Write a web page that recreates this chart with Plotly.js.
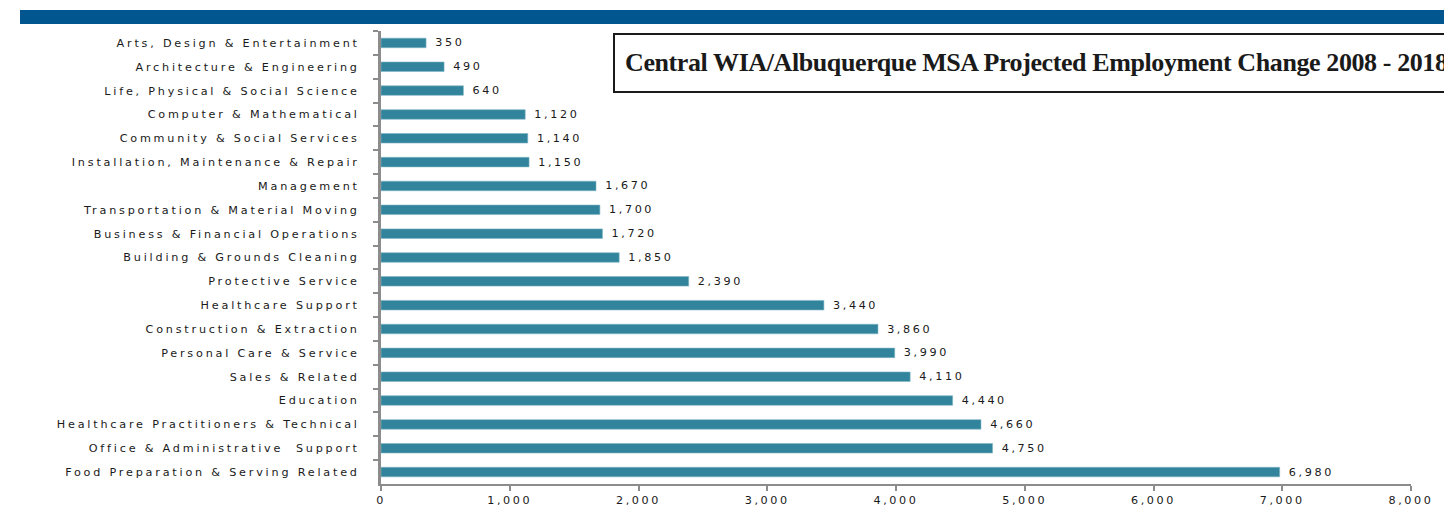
<!DOCTYPE html>
<html>
<head>
<meta charset="utf-8">
<script src="https://cdn.plot.ly/plotly-3.0.1.min.js"></script>
<style>
html,body{margin:0;padding:0;background:#fff;}
#chart{width:1444px;height:506px;}
.ytick text{letter-spacing:2.8px;}
.xtick text{letter-spacing:2.6px;}
text.bartext{letter-spacing:2.6px;}
.annotation-text{letter-spacing:-0.4px;}
</style>
</head>
<body>
<div id="chart"></div>
<script>
const categories = [
  "Arts, Design & Entertainment",
  "Architecture & Engineering",
  "Life, Physical & Social Science",
  "Computer & Mathematical",
  "Community & Social Services",
  "Installation, Maintenance & Repair",
  "Management",
  "Transportation & Material Moving",
  "Business & Financial Operations",
  "Building & Grounds Cleaning",
  "Protective Service",
  "Healthcare Support",
  "Construction & Extraction",
  "Personal Care & Service",
  "Sales & Related",
  "Education",
  "Healthcare Practitioners & Technical",
  "Office & Administrative  Support",
  "Food Preparation & Serving Related"
];
const employmentChange = [350, 490, 640, 1120, 1140, 1150, 1670, 1700, 1720, 1850,
  2390, 3440, 3860, 3990, 4110, 4440, 4660, 4750, 6980];
const xTickValues = [0, 1000, 2000, 3000, 4000, 5000, 6000, 7000, 8000];
const xTickLabels = ["0", "1,000", "2,000", "3,000", "4,000", "5,000", "6,000", "7,000", "8,000"];
const titleText = "Central WIA/Albuquerque MSA Projected Employment Change 2008 - 2018";

const W = 1444, H = 506, L = 381, R = 33, T = 31, B = 22;
const pw = W - L - R, ph = H - T - B;
const px = x => (x - L) / pw;
const py = y => (H - B - y) / ph;

const labelFont = {family: 'DejaVu Sans, Open Sans, sans-serif', size: 11.2, color: '#1a1a1a'};

const trace = {
  type: 'bar',
  orientation: 'h',
  y: categories,
  x: employmentChange,
  marker: {color: '#31849B', line: {color: '#7FB6C6', width: 0.6}},
  text: employmentChange.map(v => '\u00a0' + v.toLocaleString('en-US')),
  textposition: 'outside',
  constraintext: 'none',
  textfont: labelFont,
  outsidetextfont: labelFont,
  cliponaxis: false,
  hoverinfo: 'x+y'
};

const layout = {
  width: W, height: H,
  margin: {l: L, r: R, t: T, b: B, pad: 0},
  paper_bgcolor: '#fff', plot_bgcolor: '#fff',
  showlegend: false,
  bargap: 0.6,
  xaxis: {
    range: [0, 8000],
    tickvals: xTickValues, ticktext: xTickLabels,
    showgrid: false, zeroline: false,
    showline: true, linecolor: '#8C8C8C', linewidth: 2,
    ticks: 'outside', ticklen: 5, tickcolor: '#8C8C8C', tickwidth: 2,
    ticklabelstandoff: 0,
    tickfont: labelFont,
    fixedrange: true
  },
  yaxis: {
    type: 'category',
    autorange: 'reversed',
    showgrid: false, zeroline: false,
    showline: true, linecolor: '#8C8C8C', linewidth: 3,
    ticks: 'outside', tickson: 'boundaries', ticklen: 5, tickcolor: '#8C8C8C', tickwidth: 2,
    ticklabelstandoff: 16,
    tickfont: labelFont,
    fixedrange: true
  },
  shapes: [
    {type: 'rect', xref: 'paper', yref: 'paper',
     x0: px(20), x1: px(1460), y0: py(24), y1: py(10),
     fillcolor: '#02568F', line: {width: 0}},
    {type: 'rect', xref: 'paper', yref: 'paper',
     x0: px(614), x1: px(1460), y0: py(92), y1: py(34),
     fillcolor: 'rgba(0,0,0,0)', line: {color: '#1a1a1a', width: 2}}
  ],
  annotations: [
    {xref: 'paper', yref: 'paper', x: px(623), y: py(62),
     xanchor: 'left', yanchor: 'middle', showarrow: false,
     text: '<b>' + titleText + '</b>',
     font: {family: 'Liberation Serif, Times New Roman, serif', size: 26, color: '#1a1a1a'}}
  ]
};

Plotly.newPlot('chart', [trace], layout, {displayModeBar: false});
</script>
</body>
</html>
